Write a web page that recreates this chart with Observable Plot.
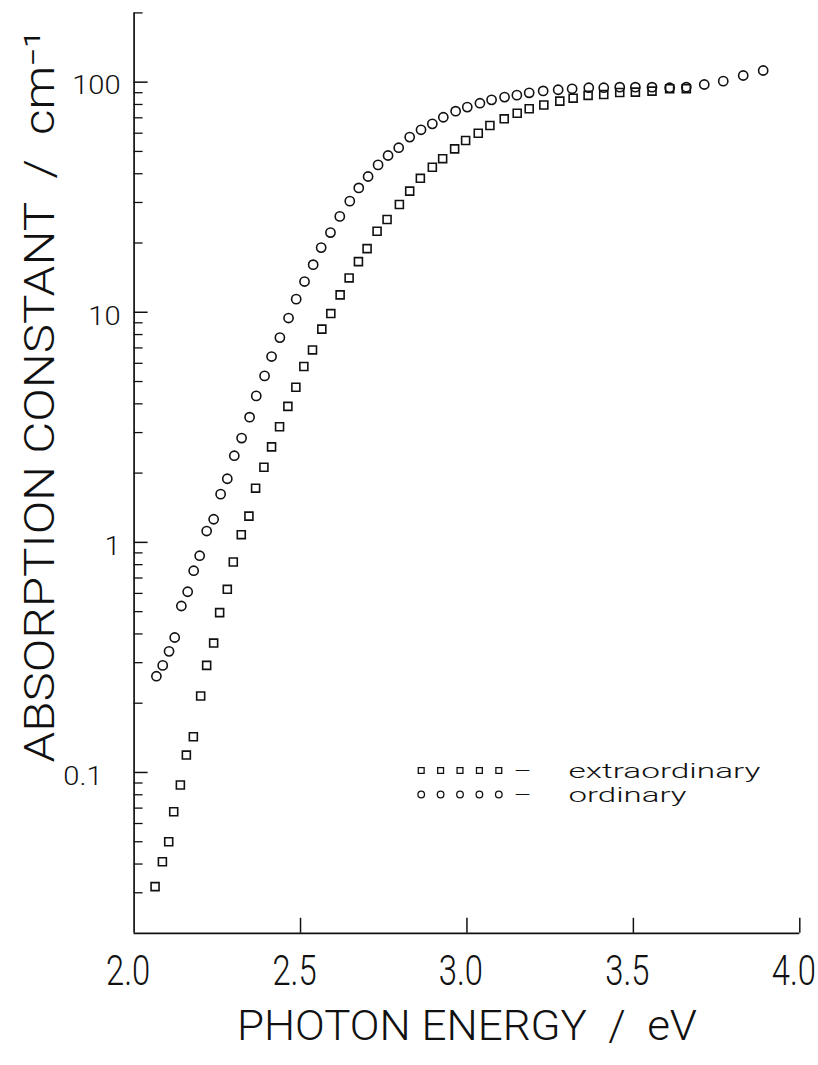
<!DOCTYPE html>
<html>
<head>
<meta charset="utf-8">
<script src="https://cdn.jsdelivr.net/npm/d3@7"></script>
<script src="https://cdn.jsdelivr.net/npm/@observablehq/plot@0.6"></script>
<style>
  html, body { margin: 0; padding: 0; background: #fff; }
  svg text { white-space: pre; }
</style>
</head>
<body>
<div id="chart"></div>
<script>
// ---- data ----
const ordinaryEnergy = [2.067, 2.086, 2.105, 2.122, 2.142, 2.161, 2.179, 2.197, 2.218, 2.239,
  2.260, 2.280, 2.301, 2.323, 2.347, 2.367, 2.392, 2.413, 2.438, 2.464,
  2.487, 2.512, 2.538, 2.562, 2.590, 2.618, 2.648, 2.675, 2.703, 2.733,
  2.763, 2.795, 2.828, 2.862, 2.896, 2.929, 2.966, 3.001, 3.039, 3.074,
  3.113, 3.150, 3.187, 3.229, 3.274, 3.316, 3.366, 3.411, 3.459, 3.506,
  3.556, 3.609, 3.659, 3.713, 3.770, 3.830, 3.890];
const ordinaryAlpha = [0.262, 0.292, 0.336, 0.386, 0.529, 0.610, 0.753, 0.875, 1.12, 1.26,
  1.62, 1.89, 2.38, 2.84, 3.50, 4.33, 5.29, 6.42, 7.76, 9.44,
  11.4, 13.6, 16.1, 19.1, 22.2, 26.1, 30.4, 34.7, 38.9, 43.7,
  48.0, 51.9, 57.7, 62.1, 65.9, 70.4, 74.8, 77.9, 81.0, 83.8,
  86.1, 87.8, 89.9, 91.6, 92.7, 93.6, 94.6, 94.6, 95.1, 95.1,
  95.1, 94.6, 95.1, 97.7, 101.0, 106.9, 112.4];

const extraEnergy = [2.063, 2.085, 2.104, 2.119, 2.139, 2.157, 2.178, 2.200, 2.218, 2.239,
  2.257, 2.280, 2.298, 2.322, 2.345, 2.365, 2.390, 2.413, 2.437, 2.462,
  2.486, 2.510, 2.536, 2.564, 2.591, 2.619, 2.646, 2.674, 2.700, 2.730,
  2.760, 2.797, 2.828, 2.860, 2.896, 2.927, 2.963, 2.996, 3.034, 3.069,
  3.112, 3.151, 3.187, 3.231, 3.279, 3.319, 3.364, 3.411, 3.459, 3.506,
  3.556, 3.609, 3.659];
const extraAlpha = [0.0319, 0.0409, 0.0500, 0.0675, 0.0882, 0.119, 0.143, 0.215, 0.292, 0.365,
  0.495, 0.625, 0.822, 1.08, 1.30, 1.72, 2.12, 2.60, 3.18, 3.90,
  4.72, 5.81, 6.86, 8.45, 9.87, 11.9, 14.1, 16.6, 18.9, 22.5,
  25.3, 29.4, 33.6, 38.2, 42.7, 46.5, 51.3, 55.8, 60.0, 64.8,
  69.3, 73.3, 76.6, 79.6, 82.7, 85.2, 87.6, 88.4, 90.2, 90.5,
  91.4, 93.6, 93.6];

const xTicks = [2.0, 2.5, 3.0, 3.5, 4.0];
const xTickLabels = ["2.0", "2.5", "3.0", "3.5", "4.0"];
const xTickMarks = [2.5, 3.0, 3.5, 4.0];
const yMajorTicks = [0.1, 1, 10, 100];
const yTickLabels = ["0.1", "1", "10", "100"];
const yMinorTicks = [0.03, 0.04, 0.05, 0.06, 0.07, 0.08, 0.09,
  0.2, 0.3, 0.4, 0.5, 0.6, 0.7, 0.8, 0.9,
  2, 3, 4, 5, 6, 7, 8, 9,
  20, 30, 40, 50, 60, 70, 80, 90, 200];

const xTitle = "PHOTON ENERGY  /  eV";
const yTitle = "ABSORPTION CONSTANT  /  cm\u207B\u00B9";
const legendLabels = ["extraordinary", "ordinary"];
const legendSymbols = ["square", "circle"];

// ---- build tables ----
const ordinary = ordinaryEnergy.map((e, i) => ({E: e, alpha: ordinaryAlpha[i]}));
const extraordinary = extraEnergy.map((e, i) => ({E: e, alpha: extraAlpha[i]}));

// ---- layout ----
const W = 818, H = 1065;
const mL = 133.6, mR = 18.7, mT = 12.4, mB = 132.2;
const plotW = W - mL - mR, plotH = H - mT - mB;
const FONT = "Roboto, 'Liberation Sans', Arial, sans-serif";
const ink = "#111";
const tag = (name) => () => name;

const legendMarks = [];
legendLabels.forEach((lab, row) => {
  const dy = 757.6 + row * 24;
  for (let k = 0; k < 5; k++) {
    legendMarks.push(Plot.dot([lab], {
      frameAnchor: "top-left", dx: 287.1 + k * 19.4, dy,
      symbol: legendSymbols[row], r: 3.3, stroke: ink, strokeWidth: 1.3, fill: "none"
    }));
  }
  legendMarks.push(Plot.text(["\u2013"], {
    frameAnchor: "top-left", dx: 379.4, dy: dy + 1, textAnchor: "start", lineAnchor: "middle",
    fontSize: 20, fill: ink, ariaLabel: tag("legend-dash")
  }));
  legendMarks.push(Plot.text([lab], {
    frameAnchor: "top-left", dx: 434.4, dy: dy + 1, textAnchor: "start", lineAnchor: "middle",
    fontSize: 20, fill: ink, ariaLabel: tag("legend-label-" + row)
  }));
});

const chart = Plot.plot({
  width: W, height: H,
  marginLeft: mL, marginRight: mR, marginTop: mT, marginBottom: mB,
  style: {background: "#fff", fontFamily: FONT, fontWeight: 300, color: ink, overflow: "visible"},
  x: {domain: [2, 4]},
  y: {type: "log", domain: [0.02, 200]},
  marks: [
    // frame lines
    Plot.ruleX([2], {stroke: ink, strokeWidth: 1.7}),
    Plot.ruleY([0.02], {stroke: ink, strokeWidth: 1.7}),
    // inward ticks
    Plot.tickY(yMajorTicks, {y: d => d, insetRight: plotW - 14, stroke: ink, strokeWidth: 1.5}),
    Plot.tickY(yMinorTicks, {y: d => d, insetRight: plotW - 9, stroke: ink, strokeWidth: 1.3}),
    Plot.tickX(xTickMarks, {x: d => d, insetTop: plotH - 15, stroke: ink, strokeWidth: 1.5}),
    // tick labels
    Plot.axisY(yMajorTicks, {
      tickSize: 0, tickPadding: 13.5, dy: 4, label: null,
      tickFormat: (d) => yTickLabels[yMajorTicks.indexOf(d)],
      fontSize: 26, fill: ink
    }),
    Plot.axisX(xTicks, {
      tickSize: 0, tickPadding: 22, dx: -6, label: null,
      tickFormat: (d) => xTickLabels[xTicks.indexOf(d)],
      fontSize: 42, fill: ink
    }),
    // axis titles
    Plot.text([xTitle], {
      text: d => d, frameAnchor: "bottom", dx: 0, dy: 77.2, lineAnchor: "top",
      textAnchor: "middle", fontSize: 42, fill: ink, ariaLabel: tag("x-title")
    }),
    Plot.text([yTitle], {
      text: d => d, frameAnchor: "top-left", dx: 40 - mL, dy: 396 - mT, rotate: -90,
      textAnchor: "middle", lineAnchor: "middle", fontSize: 42, fill: ink, ariaLabel: tag("y-title")
    }),
    // data
    Plot.dot(extraordinary, {x: "E", y: "alpha", symbol: "square", r: 4.5,
      stroke: ink, strokeWidth: 1.6, fill: "none"}),
    Plot.dot(ordinary, {x: "E", y: "alpha", symbol: "circle", r: 4.6,
      stroke: ink, strokeWidth: 1.6, fill: "none"}),
    ...legendMarks
  ]
});

document.getElementById("chart").appendChild(chart);

// ---- text shaping to mimic the plotter lettering ----
const svg = d3.select(chart);
function addTransform(sel, extra, prepend) {
  sel.each(function () {
    const t = this.getAttribute("transform") || "";
    this.setAttribute("transform", prepend ? extra + " " + t : t + " " + extra);
  });
}
addTransform(svg.selectAll('g[aria-label="x-axis tick label"] text'), "scale(0.78,1)");
addTransform(svg.selectAll('g[aria-label="y-axis tick label"] text'), "scale(1.12,1)");
addTransform(svg.selectAll('g[aria-label="y-axis tick label"] text').filter(function () {
  return this.textContent === "0.1";
}), "translate(-18,0)", true);
function fitLength(sel, len) {
  sel.attr("textLength", len).attr("lengthAdjust", "spacingAndGlyphs");
}
fitLength(svg.selectAll('text[aria-label="x-title"]'), 460);
fitLength(svg.selectAll('text[aria-label="y-title"]'), 732);
fitLength(svg.selectAll('text[aria-label="legend-label-0"]'), 192);
fitLength(svg.selectAll('text[aria-label="legend-label-1"]'), 118);
addTransform(svg.selectAll('text[aria-label="legend-dash"]'), "scale(1.4,1)");
</script>
</body>
</html>
